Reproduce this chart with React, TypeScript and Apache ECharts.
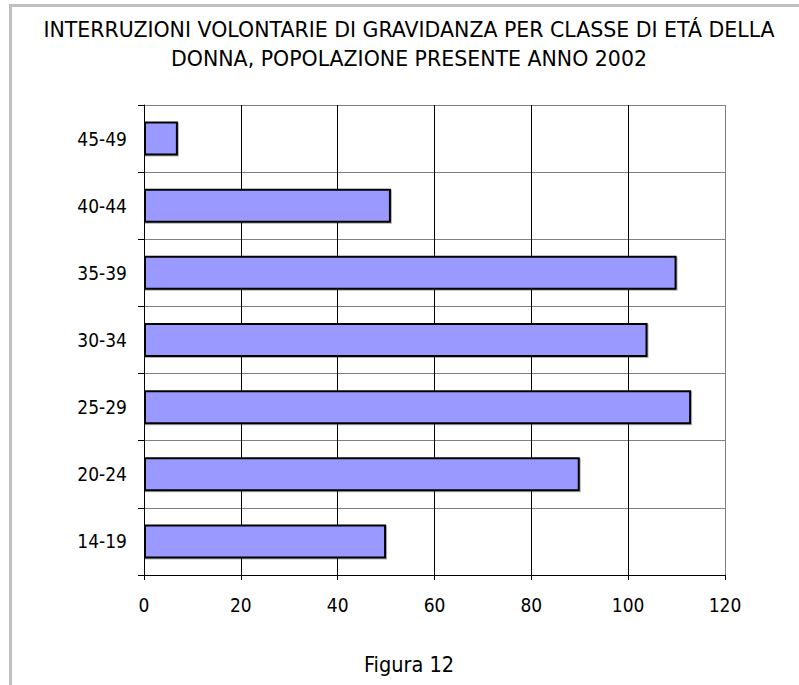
import React, { useEffect, useRef } from "react";
import * as echarts from "echarts";

const categories = ["14-19", "20-24", "25-29", "30-34", "35-39", "40-44", "45-49"];
const values = [50, 90, 113, 104, 110, 51, 7];
const xTicks = { min: 0, max: 120, interval: 20 };
const titleLines = [
  "INTERRUZIONI VOLONTARIE DI GRAVIDANZA PER CLASSE DI ETÁ DELLA",
  "DONNA, POPOLAZIONE PRESENTE ANNO 2002",
];
const caption = "Figura 12";

const FONT = "'DejaVu Sans Condensed', 'DejaVu Sans', sans-serif";
const TITLE_FONT = "'DejaVu Sans', sans-serif";

export default function App() {
  const ref = useRef<HTMLDivElement>(null);
  useEffect(() => {
    if (!ref.current) return;
    const chart = echarts.init(ref.current, null, { renderer: "svg" });
    chart.setOption({
      animation: false,
      backgroundColor: "#ffffff",
      textStyle: { fontFamily: FONT },
      title: {
        text: titleLines.join("\n"),
        left: 404,
        top: 10,
        textAlign: "center",
        textStyle: { fontFamily: TITLE_FONT, fontSize: 20.5, fontWeight: "normal", color: "#000", lineHeight: 29 },
      },
      grid: { left: 144, top: 105, width: 581, height: 470, containLabel: false },
      xAxis: {
        type: "value",
        min: xTicks.min,
        max: xTicks.max,
        interval: xTicks.interval,
        axisLine: { show: true, lineStyle: { color: "#000", width: 1 } },
        axisTick: { show: true, length: 5, lineStyle: { color: "#000" } },
        axisLabel: { color: "#000", fontSize: 19, fontFamily: FONT, margin: 20 },
        splitLine: {
          show: true,
          lineStyle: { color: ["#000", "#000", "#000", "#000", "#000", "#000", "#808080"], width: 1 },
        },
      },
      yAxis: {
        type: "category",
        data: categories,
        axisLine: { show: true, lineStyle: { color: "#000", width: 1 } },
        axisTick: { show: true, length: 6, alignWithLabel: false, lineStyle: { color: "#000" } },
        axisLabel: { color: "#000", fontSize: 19, fontFamily: FONT, margin: 17 },
        splitLine: { show: true, lineStyle: { color: "#808080", width: 1 } },
      },
      series: [
        {
          type: "bar",
          data: values,
          barWidth: 34,
          itemStyle: {
            color: "#9999ff",
            borderColor: "#000",
            borderWidth: 2,
            shadowColor: "rgba(0,0,0,0.3)",
            shadowOffsetX: 1,
            shadowOffsetY: 1,
            shadowBlur: 0,
          },
        },
      ],
      graphic: [
        { type: "rect", left: 9, top: 4, shape: { width: 790, height: 3 }, style: { fill: "#c0c0c0" } },
        { type: "rect", left: 9, top: 4, shape: { width: 3, height: 681 }, style: { fill: "#c0c0c0" } },
        {
          type: "text",
          x: 409,
          y: 664,
          style: {
            text: caption,
            fontSize: 21.5,
            fontFamily: FONT,
            fill: "#000",
            textAlign: "center",
            textVerticalAlign: "middle",
          },
        },
      ],
    });
    return () => chart.dispose();
  }, []);
  return (
    <div
      ref={ref}
      style={{ position: "fixed", left: 0, top: 0, width: 799, height: 685 }}
    />
  );
}
